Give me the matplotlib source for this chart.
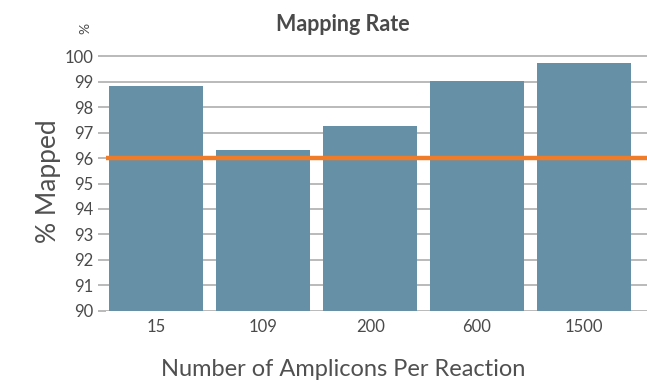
import matplotlib.pyplot as plt

# values
categories = ["15", "109", "200", "600", "1500"]
mapped = [98.82, 96.31, 97.25, 99.02, 99.73]
threshold = 96.0
yticks = list(range(90, 101))

plt.rcParams["font.family"] = ["Lato", "DejaVu Sans"]

fig = plt.figure(figsize=(6.47, 3.81), dpi=100)
ax = fig.add_axes([0.164, 0.184, 0.836, 0.682])

x = range(len(categories))
ax.bar(x, mapped, width=0.88, color="#6690a6", zorder=2)
ax.axhline(threshold, color="#f07c2a", linewidth=3.2, zorder=3)

ax.set_ylim(90, 100.2)
ax.set_xlim(-0.47, 4.59)
ax.set_yticks(yticks)
ax.set_xticks(list(x))
ax.set_xticklabels(categories)
ax.grid(axis="y", color="#b4b4b4", linewidth=1.3, zorder=1)
ax.tick_params(axis="y", length=6, color="#b4b4b4", width=1.3, labelsize=12,
               labelcolor="#4a4a4a", pad=3)
ax.tick_params(axis="x", length=0, labelsize=12, labelcolor="#4a4a4a", pad=6)
for s in ax.spines.values():
    s.set_visible(False)

ax.set_ylabel("% Mapped", fontsize=19, color="#505050", labelpad=3)
fig.text(0.53, 0.03, "Number of Amplicons Per Reaction", ha="center",
         va="center", fontsize=17, color="#505050")
fig.text(0.53, 0.935, "Mapping Rate", ha="center", va="center",
         fontsize=15.5, fontweight="bold", color="#4a4a4a")
fig.text(0.132, 0.925, "%", ha="center", va="center", rotation=90,
         fontsize=10, color="#4a4a4a")

fig.savefig("out.png", dpi=100)
